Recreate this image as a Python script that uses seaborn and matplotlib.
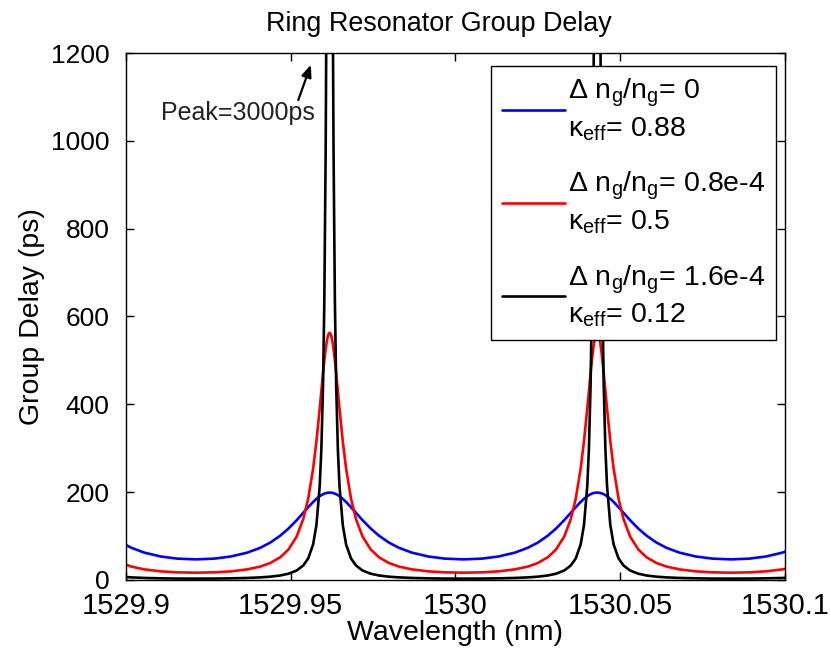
import matplotlib
matplotlib.use("Agg")
import matplotlib.pyplot as plt
import pandas as pd
import seaborn as sns

# ---------------- data ----------------
wavelength = [
    1529.8986, 1529.9016, 1529.9056, 1529.9106, 1529.9156, 1529.9212,
    1529.9268, 1529.9318, 1529.9368, 1529.9408, 1529.9438, 1529.9468, 1529.9493,
    1529.9518, 1529.9538, 1529.9553, 1529.9568, 1529.9578, 1529.9588, 1529.9593,
    1529.9598, 1529.9602, 1529.9606, 1529.9609, 1529.9612, 1529.9615, 1529.9618,
    1529.9621, 1529.9624, 1529.9627, 1529.9630, 1529.9634, 1529.9638, 1529.9643,
    1529.9648, 1529.9658, 1529.9668, 1529.9683, 1529.9698, 1529.9718, 1529.9743,
    1529.9768, 1529.9798, 1529.9828, 1529.9868, 1529.9918, 1529.9968, 1530.0024,
    1530.0080, 1530.0130, 1530.0180, 1530.0220, 1530.0250, 1530.0280, 1530.0305,
    1530.0330, 1530.0350, 1530.0365, 1530.0380, 1530.0390, 1530.0400, 1530.0405,
    1530.0410, 1530.0414, 1530.0418, 1530.0421, 1530.0424, 1530.0427, 1530.0430,
    1530.0433, 1530.0436, 1530.0439, 1530.0442, 1530.0446, 1530.0450, 1530.0455,
    1530.0460, 1530.0470, 1530.0480, 1530.0495, 1530.0510, 1530.0530, 1530.0555,
    1530.0580, 1530.0610, 1530.0640, 1530.0680, 1530.0730, 1530.0780, 1530.0836,
    1530.0892, 1530.0942, 1530.0992, 1530.1032,
]

delay_k088 = [
    85.2, 73.4, 62.2, 53.4, 48.6, 46.9,
    48.6, 53.4, 62.2, 73.4, 85.2, 100.8, 117.0, 136.1, 153.0, 165.7, 177.7,
    184.8, 190.7, 193.2, 195.2, 196.6, 197.6, 198.2, 198.7, 198.9, 199.0,
    198.9, 198.7, 198.2, 197.6, 196.6, 195.2, 193.2, 190.7, 184.8, 177.7,
    165.7, 153.0, 136.1, 117.0, 100.8, 85.2, 73.4, 62.2, 53.4, 48.6, 46.9,
    48.6, 53.4, 62.2, 73.4, 85.2, 100.8, 117.0, 136.1, 153.0, 165.7, 177.7,
    184.8, 190.7, 193.2, 195.2, 196.6, 197.6, 198.2, 198.7, 198.9, 199.0,
    198.9, 198.7, 198.2, 197.6, 196.6, 195.2, 193.2, 190.7, 184.8, 177.7,
    165.7, 153.0, 136.1, 117.0, 100.8, 85.2, 73.4, 62.2, 53.4, 48.6, 46.9,
    48.6, 53.4, 62.2, 73.4,
]

delay_k050 = [
    38.7, 30.6, 24.1, 19.6, 17.4, 16.6,
    17.4, 19.6, 24.1, 30.6, 38.7, 51.6, 69.3, 98.9, 138.7, 185.1, 253.8,
    315.7, 390.4, 430.6, 470.3, 499.9, 525.7, 541.4, 553.2, 560.5, 563.0,
    560.5, 553.2, 541.4, 525.7, 499.9, 470.3, 430.6, 390.4, 315.7, 253.8,
    185.1, 138.7, 98.9, 69.3, 51.6, 38.7, 30.6, 24.1, 19.6, 17.4, 16.6,
    17.4, 19.6, 24.1, 30.6, 38.7, 51.6, 69.3, 98.9, 138.7, 185.1, 253.8,
    315.7, 390.4, 430.6, 470.3, 499.9, 525.7, 541.4, 553.2, 560.5, 563.0,
    560.5, 553.2, 541.4, 525.7, 499.9, 470.3, 430.6, 390.4, 315.7, 253.8,
    185.1, 138.7, 98.9, 69.3, 51.6, 38.7, 30.6, 24.1, 19.6, 17.4, 16.6,
    17.4, 19.6, 24.1, 30.6,
]

delay_k012 = [
    7.5, 5.9, 4.6, 3.7, 3.2, 3.1,
    3.2, 3.7, 4.6, 5.9, 7.5, 10.2, 14.2, 21.5, 33, 49, 81,
    125, 214, 299, 442, 637, 973, 1384, 1981, 2674, 3027,
    2674, 1981, 1384, 973, 637, 442, 299, 214, 125, 81,
    49, 33, 21.5, 14.2, 10.2, 7.5, 5.9, 4.6, 3.7, 3.2, 3.1,
    3.2, 3.7, 4.6, 5.9, 7.5, 10.2, 14.2, 21.5, 33, 49, 81,
    125, 214, 299, 442, 637, 973, 1384, 1981, 2674, 3027,
    2674, 1981, 1384, 973, 637, 442, 299, 214, 125, 81,
    49, 33, 21.5, 14.2, 10.2, 7.5, 5.9, 4.6, 3.7, 3.2, 3.1,
    3.2, 3.7, 4.6, 5.9,
]

series_labels = [
    "Δ $n_g/n_g$= 0\n$κ_{eff}$= 0.88",
    "Δ $n_g/n_g$= 0.8e-4\n$κ_{eff}$= 0.5",
    "Δ $n_g/n_g$= 1.6e-4\n$κ_{eff}$= 0.12",
]
series_colors = ["#0000ff", "#ff0000", "#000000"]

x_ticks = [1529.9, 1529.95, 1530.0, 1530.05, 1530.1]
x_tick_labels = ["1529.9", "1529.95", "1530", "1530.05", "1530.1"]
y_ticks = [0, 200, 400, 600, 800, 1000, 1200]

peak_text = "Peak=3000ps"
title_text = "Ring Resonator Group Delay"
x_label = "Wavelength (nm)"
y_label = "Group Delay (ps)"

# ---------------- style ----------------
sns.set_theme(style="white")
plt.rcParams["font.family"] = ["Liberation Sans", "DejaVu Sans"]
plt.rcParams["mathtext.fontset"] = "custom"
plt.rcParams["mathtext.rm"] = "Liberation Sans"
plt.rcParams["mathtext.it"] = "Liberation Sans"
plt.rcParams["mathtext.default"] = "regular"
for key in ["text.color", "axes.labelcolor", "xtick.color", "ytick.color"]:
    plt.rcParams[key] = "black"

frames = []
for lab, vals in zip(series_labels, [delay_k088, delay_k050, delay_k012]):
    frames.append(pd.DataFrame({"wavelength": wavelength, "delay": vals, "series": lab}))
df = pd.concat(frames, ignore_index=True)

fig = plt.figure(figsize=(8.31, 6.56), dpi=100)
ax = fig.add_axes([0.1516, 0.1159, 0.7930, 0.8033])

sns.lineplot(data=df, x="wavelength", y="delay", hue="series",
             hue_order=series_labels, palette=series_colors,
             estimator=None, sort=False, linewidth=1.9, ax=ax, legend=False)

ax.set_xlim(x_ticks[0], x_ticks[-1])
ax.set_ylim(y_ticks[0], y_ticks[-1])
ax.set_xticks(x_ticks)
ax.set_xticklabels(x_tick_labels)
ax.set_yticks(y_ticks)
ax.tick_params(axis="both", direction="in", length=6, width=1,
               top=True, right=True, bottom=True, left=True, colors="black")
ax.tick_params(axis="x", labelsize=21, pad=9)
ax.tick_params(axis="y", labelsize=19, pad=12)
for s in ax.spines.values():
    s.set_color("black")
    s.set_linewidth(1.0)

ax.set_xlabel(x_label, fontsize=20.5, labelpad=0)
ax.set_ylabel(y_label, fontsize=20.5, labelpad=4)
ax.set_title(title_text, fontsize=19.4, pad=16, x=0.475)

# arrow + peak annotation
ax.annotate("", xy=(1529.9561, 1173), xytext=(1529.9523, 1093),
            arrowprops=dict(arrowstyle="-|>,head_length=0.6,head_width=0.25",
                            color="black", lw=1.6, shrinkA=0, shrinkB=0))
ax.text(1529.9105, 1048, peak_text, fontsize=18, va="baseline", ha="left",
        color="#222222")

handles = ax.get_lines()[:3]
leg = ax.legend(handles, series_labels, loc="upper right",
                bbox_to_anchor=(0.986, 0.975), fontsize=20.5, frameon=True,
                fancybox=False, framealpha=1, edgecolor="black",
                handlelength=2.2, handletextpad=0.1, borderpad=0.38,
                labelspacing=0.95, borderaxespad=0)
leg.get_frame().set_linewidth(1.0)
for t in leg.get_texts():
    t.set_linespacing(1.3)

fig.savefig("out.png", dpi=100, facecolor="white")
